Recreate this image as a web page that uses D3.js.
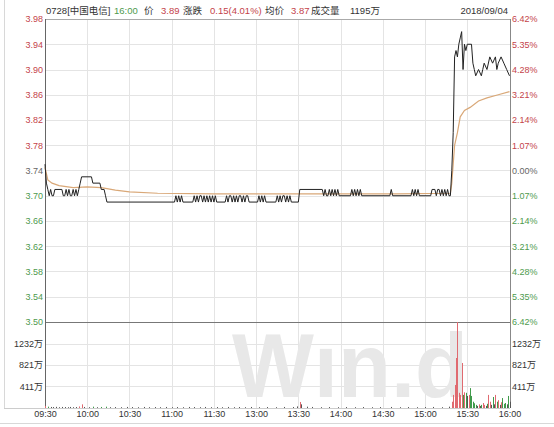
<!DOCTYPE html>
<html>
<head>
<meta charset="utf-8">
<script src="https://cdn.jsdelivr.net/npm/d3@7"></script>
<style>
  body { margin: 0; background: #fff; }
  svg { display: block; }
  text { font-family: "Liberation Sans", "Noto Sans CJK SC", sans-serif; }
</style>
</head>
<body>
<svg width="554" height="427"></svg>
<script>
// minute index from 09:30 (0) to 16:00 (330), lunch break removed
var timeTicks = [0, 30, 60, 90, 120, 150, 180, 210, 240, 270, 300, 330];
var timeLabels = ["09:30", "10:00", "10:30", "11:00", "11:30", "13:00", "13:30", "14:00", "14:30", "15:00", "15:30", "16:00"];
var priceTicks = [3.50, 3.54, 3.58, 3.62, 3.66, 3.70, 3.74, 3.78, 3.82, 3.86, 3.90, 3.94, 3.98];
var prevClose = 3.74;
var volumeTicks = [411, 821, 1232];

// [minute, price]
var pricePoints = [
  [0, 3.75], [1, 3.72], [2, 3.71], [3, 3.70], [4, 3.71], [5, 3.70], [6, 3.70], [7, 3.71], [12, 3.71],
  [13, 3.70], [14, 3.70], [15, 3.71], [16, 3.70], [17, 3.71], [18, 3.70], [19, 3.70], [20, 3.71],
  [21, 3.70], [22, 3.71], [23, 3.70], [24, 3.71], [25, 3.72], [26, 3.73], [33, 3.73], [34, 3.72],
  [39, 3.72], [40, 3.71], [42, 3.71], [43, 3.70], [44, 3.69], [92, 3.69],
  [93, 3.70], [94, 3.69], [95, 3.70], [96, 3.69], [97, 3.70], [98, 3.69], [105, 3.69],
  [106, 3.70], [107, 3.69], [108, 3.70], [109, 3.69], [110, 3.70], [111, 3.70], [112, 3.69], [113, 3.70],
  [114, 3.69], [115, 3.70], [116, 3.69], [117, 3.70], [118, 3.69], [119, 3.70], [120, 3.69], [121, 3.70],
  [122, 3.69], [128, 3.69], [129, 3.70], [130, 3.69], [131, 3.70], [132, 3.70], [133, 3.69], [134, 3.70],
  [135, 3.69], [136, 3.70], [137, 3.69], [138, 3.70], [139, 3.70], [140, 3.69], [141, 3.70], [142, 3.69],
  [143, 3.70], [144, 3.70], [145, 3.69], [151, 3.69], [152, 3.70], [153, 3.69], [154, 3.70], [155, 3.69],
  [156, 3.70], [157, 3.69], [164, 3.69], [165, 3.70], [166, 3.69], [167, 3.70], [168, 3.69], [169, 3.70],
  [170, 3.70], [171, 3.69], [172, 3.70], [173, 3.69], [174, 3.70], [175, 3.69], [180, 3.69],
  [181, 3.71], [197, 3.71], [198, 3.70], [199, 3.71], [200, 3.70], [201, 3.70], [202, 3.71], [203, 3.70],
  [204, 3.71], [205, 3.70], [206, 3.71], [207, 3.70], [208, 3.71], [209, 3.70], [217, 3.70],
  [218, 3.71], [219, 3.70], [220, 3.71], [221, 3.70], [222, 3.71], [223, 3.70], [224, 3.71], [225, 3.70],
  [245, 3.70], [246, 3.71], [247, 3.70], [260, 3.70], [261, 3.71], [262, 3.70], [263, 3.71], [264, 3.70],
  [265, 3.71], [266, 3.70], [274, 3.70], [275, 3.71], [277, 3.71], [278, 3.70], [279, 3.71], [280, 3.71],
  [281, 3.70], [282, 3.71], [283, 3.70], [284, 3.71], [285, 3.70], [286, 3.71], [287, 3.70], [288, 3.70],
  [289, 3.74], [290, 3.80], [291, 3.92], [292, 3.93], [293, 3.92], [294, 3.94], [295, 3.95], [296, 3.96],
  [297, 3.90], [298, 3.94], [299, 3.93], [300, 3.94], [303, 3.94], [304, 3.91], [305, 3.90], [306, 3.89],
  [308, 3.90], [310, 3.89], [311, 3.90], [312, 3.91], [314, 3.90], [316, 3.92], [318, 3.91], [320, 3.92],
  [321, 3.90], [322, 3.91], [324, 3.92], [326, 3.91], [328, 3.90], [330, 3.89]
];

// [minute, average price]
var avgPoints = [
  [0, 3.745], [2, 3.725], [5, 3.72], [10, 3.716], [20, 3.713], [30, 3.714], [40, 3.713], [50, 3.709],
  [60, 3.706], [80, 3.704], [120, 3.703], [180, 3.703], [250, 3.703], [288, 3.704], [289, 3.72],
  [290, 3.75], [291, 3.78], [293, 3.80], [295, 3.825], [298, 3.835], [302, 3.84], [308, 3.85],
  [314, 3.855], [322, 3.86], [330, 3.865]
];

// [minute, volume (万), direction: 1 up, -1 down, 0 flat]
var volumeBars = [
  [0, 40, 1], [2, 25, -1], [4, 20, 0], [6, 18, 0], [8, 22, 0], [10, 15, 0], [12, 20, 0], [14, 18, 0],
  [16, 15, 0], [18, 20, 0], [20, 15, 0], [22, 18, 0], [24, 30, 1], [26, 70, 1], [28, 20, 0], [31, 15, 0],
  [34, 25, -1], [37, 15, 0], [40, 20, -1], [43, 25, -1], [46, 15, 0], [50, 18, 0], [54, 15, 0], [58, 20, 0],
  [62, 18, 0], [66, 15, 0], [70, 20, 0], [74, 15, 0], [78, 18, 0], [82, 15, 0], [86, 20, 0], [90, 15, 0],
  [94, 18, 0], [98, 15, 0], [102, 20, 0], [106, 18, 0], [110, 15, 0], [114, 20, 0], [118, 15, 0],
  [122, 18, 0], [126, 15, 0], [130, 20, 0], [134, 15, 0], [138, 18, 0], [142, 15, 0], [146, 20, 0],
  [152, 15, 0], [158, 18, 0], [164, 15, 0], [170, 20, 0], [176, 18, 0], [179, 30, 0], [181, 115, 1],
  [182, 70, 0], [186, 25, 0], [190, 20, 0], [196, 15, 0], [202, 18, 0], [208, 15, 0], [214, 18, 0],
  [220, 15, 0], [226, 18, 0], [232, 15, 0], [238, 18, 0], [246, 20, 0], [252, 15, 0], [258, 18, 0],
  [264, 15, 0], [270, 18, 0], [276, 20, 0], [282, 15, 0], [287, 25, 0],
  [289, 120, 1], [290, 250, 1], [291, 440, 1], [292, 955, 1], [293, 1643, 1], [294, 290, 1], [295, 250, 1],
  [296, 860, 1], [297, 250, -1], [298, 300, 1], [299, 290, -1], [300, 230, 0], [301, 250, 1], [302, 380, -1],
  [303, 230, -1], [304, 120, -1], [305, 90, -1], [306, 60, -1], [307, 40, 0], [308, 70, 1], [309, 40, 0],
  [310, 60, -1], [311, 95, 1], [312, 60, 1], [313, 40, 0], [314, 80, -1], [315, 250, 1], [316, 120, 1],
  [317, 60, 0], [318, 210, -1], [319, 70, 0], [320, 250, 1], [321, 120, -1], [322, 150, 1], [323, 60, 0],
  [324, 110, 1], [325, 190, -1], [326, 80, -1], [327, 95, -1], [328, 70, 0], [329, 230, -1], [330, 120, 0]
];

var header = [
  { text: "0728[中国电信]", x: 46, color: "#333" },
  { text: "16:00", x: 114, color: "#4e9a4e" },
  { text: "价", x: 144, color: "#333" },
  { text: "3.89", x: 161, color: "#c4434a" },
  { text: "涨跌", x: 183, color: "#333" },
  { text: "0.15(4.01%)", x: 210, color: "#c4434a" },
  { text: "均价", x: 265, color: "#333" },
  { text: "3.87", x: 291, color: "#c4434a" },
  { text: "成交量", x: 311, color: "#333" },
  { text: "1195万", x: 350, color: "#333" }
];
var dateLabel = "2018/09/04";

var RED = "#c4434a", GREEN = "#4e9a4e", GREY = "#666";

var svg = d3.select("svg");
var plotLeft = 45, plotRight = 510, plotTop = 19, priceBottom = 322, volBottom = 408;

var x = d3.scaleLinear().domain([0, 330]).range([plotLeft, plotRight - 0.5]);
var y = d3.scaleLinear().domain([3.50, 3.98]).range([priceBottom, plotTop]);
var yv = d3.scaleLinear().domain([0, 1643]).range([volBottom, priceBottom]);

// outer frame
svg.append("line").attr("x1", 4.5).attr("x2", 4.5).attr("y1", 0).attr("y2", volBottom)
  .attr("stroke", "#d8d8d8");
svg.append("line").attr("x1", 0).attr("x2", 554).attr("y1", 423.5).attr("y2", 423.5)
  .attr("stroke", "#d8d8d8");

// grid
var grid = svg.append("g").attr("stroke", "#e4e4e4").attr("shape-rendering", "crispEdges");
grid.selectAll("line.h").data(priceTicks.slice(1, -1)).enter().append("line")
  .attr("x1", plotLeft).attr("x2", plotRight)
  .attr("y1", function (d) { return Math.round(y(d)) + 0.5; })
  .attr("y2", function (d) { return Math.round(y(d)) + 0.5; });
grid.selectAll("line.v").data(volumeTicks).enter().append("line")
  .attr("x1", plotLeft).attr("x2", plotRight)
  .attr("y1", function (d) { return Math.round(yv(d)) + 0.5; })
  .attr("y2", function (d) { return Math.round(yv(d)) + 0.5; });
grid.selectAll("line.t").data(timeTicks.slice(1, -1)).enter().append("line")
  .attr("x1", function (d) { return Math.round(x(d)) + 0.5; })
  .attr("x2", function (d) { return Math.round(x(d)) + 0.5; })
  .attr("y1", plotTop).attr("y2", volBottom);

// watermark
svg.append("text")
  .attr("x", 232).attr("y", 397)
  .attr("font-size", 90).attr("font-weight", "bold")
  .attr("fill", "#e8e8e8")
  .attr("textLength", 236).attr("lengthAdjust", "spacingAndGlyphs")
  .text("Wın.d");

// frame lines
var frame = svg.append("g").attr("shape-rendering", "crispEdges");
frame.append("line").attr("x1", plotLeft).attr("x2", plotRight).attr("y1", plotTop + 0.5).attr("y2", plotTop + 0.5).attr("stroke", "#aaa");
frame.append("line").attr("x1", plotLeft).attr("x2", plotRight).attr("y1", priceBottom + 0.5).attr("y2", priceBottom + 0.5).attr("stroke", "#777");
frame.append("line").attr("x1", 4).attr("x2", plotRight).attr("y1", volBottom + 0.5).attr("y2", volBottom + 0.5).attr("stroke", "#ccc");
frame.append("line").attr("x1", plotLeft + 0.5).attr("x2", plotLeft + 0.5).attr("y1", plotTop).attr("y2", volBottom).attr("stroke", "#666");
frame.append("line").attr("x1", plotRight + 0.5).attr("x2", plotRight + 0.5).attr("y1", plotTop).attr("y2", volBottom).attr("stroke", "#888");

// volume bars
svg.append("g").selectAll("line").data(volumeBars).enter().append("line")
  .attr("x1", function (d) { return Math.round(x(d[0])) + 0.5; })
  .attr("x2", function (d) { return Math.round(x(d[0])) + 0.5; })
  .attr("y1", volBottom)
  .attr("y2", function (d) { return yv(d[1]); })
  .attr("stroke", function (d) { return d[2] > 0 ? "#e06a70" : d[2] < 0 ? "#3f9a4a" : "#555"; })
  .attr("stroke-width", 1);

// average and price lines
var line = d3.line()
  .x(function (d) { return x(d[0]); })
  .y(function (d) { return y(d[1]); });

svg.append("path").datum(avgPoints)
  .attr("d", line).attr("fill", "none")
  .attr("stroke", "#d9a878").attr("stroke-width", 1.2);

svg.append("path").datum(pricePoints)
  .attr("d", line).attr("fill", "none")
  .attr("stroke", "#222").attr("stroke-width", 1);

// axes
function tickColor(p) {
  var r = Math.round(p * 100);
  var c = Math.round(prevClose * 100);
  return r > c ? RED : r < c ? GREEN : GREY;
}

var axisFont = "9px";

var leftAxis = svg.append("g")
  .attr("transform", "translate(" + (plotLeft - 2) + ",0)")
  .call(d3.axisLeft(y).tickValues(priceTicks).tickSize(0).tickPadding(0).tickFormat(d3.format(".2f")));
leftAxis.select(".domain").remove();
leftAxis.selectAll("text")
  .attr("font-size", axisFont).attr("font-family", null)
  .attr("fill", function (d) { return tickColor(d); });

var rightAxis = svg.append("g")
  .attr("transform", "translate(" + (plotRight + 2) + ",0)")
  .call(d3.axisRight(y).tickValues(priceTicks).tickSize(0).tickPadding(0)
    .tickFormat(function (d) { return Math.abs((d - prevClose) / prevClose * 100).toFixed(2) + "%"; }));
rightAxis.select(".domain").remove();
rightAxis.selectAll("text")
  .attr("font-size", axisFont).attr("font-family", null)
  .attr("fill", function (d) { return tickColor(d); });

var volAxisL = svg.append("g")
  .attr("transform", "translate(" + (plotLeft - 2) + ",0)")
  .call(d3.axisLeft(yv).tickValues(volumeTicks).tickSize(0).tickPadding(0)
    .tickFormat(function (d) { return d + "万"; }));
volAxisL.select(".domain").remove();
volAxisL.selectAll("text").attr("font-size", axisFont).attr("font-family", null).attr("fill", "#333");

var volAxisR = svg.append("g")
  .attr("transform", "translate(" + (plotRight + 2) + ",0)")
  .call(d3.axisRight(yv).tickValues(volumeTicks).tickSize(0).tickPadding(0)
    .tickFormat(function (d) { return d + "万"; }));
volAxisR.select(".domain").remove();
volAxisR.selectAll("text").attr("font-size", axisFont).attr("font-family", null).attr("fill", "#333");

var xAxis = svg.append("g")
  .attr("transform", "translate(0," + volBottom + ")")
  .call(d3.axisBottom(x).tickValues(timeTicks).tickSize(0).tickPadding(3)
    .tickFormat(function (d, i) { return timeLabels[i]; }));
xAxis.select(".domain").remove();
xAxis.selectAll("text").attr("font-size", axisFont).attr("font-family", null).attr("fill", "#333");

// header
var head = svg.append("g").attr("font-size", "9.5px");
head.selectAll("text").data(header).enter().append("text")
  .attr("x", function (d) { return d.x; })
  .attr("y", 14)
  .attr("fill", function (d) { return d.color; })
  .text(function (d) { return d.text; });
head.append("text").attr("x", 508).attr("y", 14).attr("text-anchor", "end")
  .attr("fill", "#333").text(dateLabel);
</script>
</body>
</html>
